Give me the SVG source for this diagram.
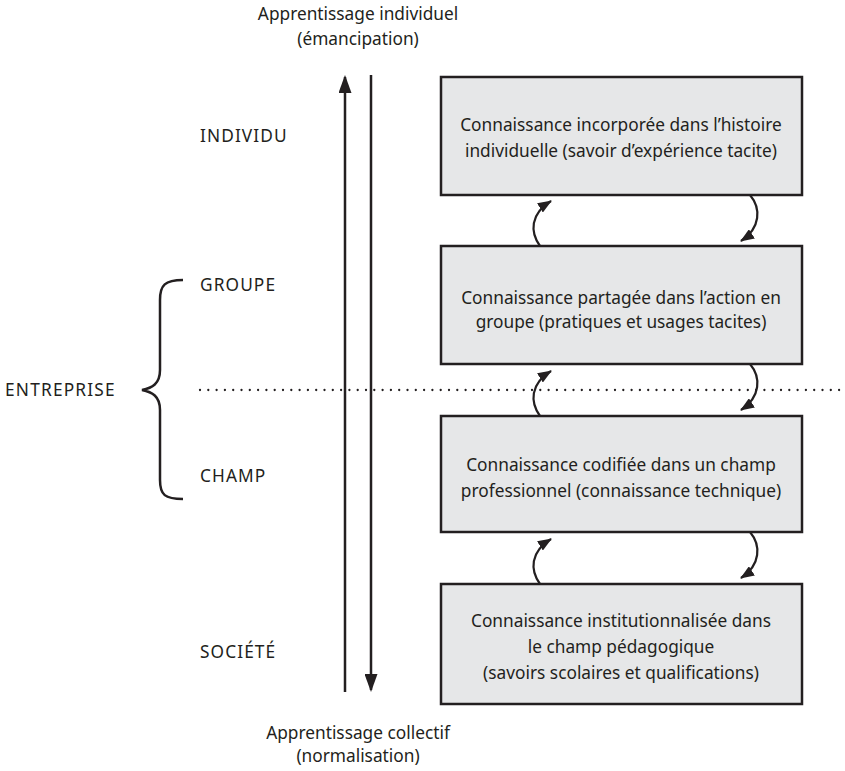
<svg xmlns="http://www.w3.org/2000/svg" width="845" height="771" viewBox="0 0 845 771">
<style>
text{font-family:"Noto Sans","Open Sans","Liberation Sans",sans-serif;font-size:17.3px;fill:#231f20}
.c{text-anchor:middle}
.cap{letter-spacing:1.1px}
.box{fill:#e6e7e8;stroke:#231f20;stroke-width:2.5}
.ln{fill:none;stroke:#231f20;stroke-width:2.5}
.cv{fill:none;stroke:#231f20;stroke-width:2.2}
</style>
<defs>
<marker id="big" markerWidth="18" markerHeight="13" refX="16" refY="6.5" viewBox="0 0 18 13" orient="auto" markerUnits="userSpaceOnUse">
<path d="M0,0 L18,6.5 L0,13 Z" fill="#231f20"/>
</marker>
<marker id="sm" markerWidth="14" markerHeight="11" refX="13" refY="5.5" viewBox="0 0 14 11" orient="auto" markerUnits="userSpaceOnUse">
<path d="M0,0 L14,5.5 L0,11 Z" fill="#231f20"/>
</marker>
</defs>
<g id="top-label"><text class="c" x="358" y="20">Apprentissage individuel</text><text class="c" x="358" y="45">(émancipation)</text></g>
<g id="bottom-label"><text class="c" x="358" y="739">Apprentissage collectif</text><text class="c" x="358" y="762">(normalisation)</text></g>
<g id="levels">
<text class="cap" x="200" y="142">INDIVIDU</text>
<text class="cap" x="200" y="291">GROUPE</text>
<text class="cap" x="200" y="482">CHAMP</text>
<text class="cap" x="200" y="658">SOCIÉTÉ</text>
<text class="cap" x="5" y="396" style="letter-spacing:1.2px">ENTREPRISE</text>
</g>
<g id="brace"><path class="ln" d="M183,280 C165,280 160,285 160,300 L160,370 C160,384 152,388 142,390 C152,392 160,396 160,410 L160,480 C160,495 165,499 183,499" stroke-width="2.2"/></g>
<g id="box1"><rect class="box" x="441" y="77" width="361" height="118"/><text class="c" x="621" y="131">Connaissance incorporée dans l’histoire</text><text class="c" x="621" y="157">individuelle (savoir d’expérience tacite)</text></g>
<g id="box2"><rect class="box" x="441" y="246" width="361" height="118"/><text class="c" x="621" y="304">Connaissance partagée dans l’action en</text><text class="c" x="621" y="328">groupe (pratiques et usages tacites)</text></g>
<g id="box3"><rect class="box" x="441" y="416" width="361" height="116"/><text class="c" x="621" y="471">Connaissance codifiée dans un champ</text><text class="c" x="621" y="497">professionnel (connaissance technique)</text></g>
<g id="box4"><rect class="box" x="441" y="584" width="361" height="120"/><text class="c" x="621" y="627">Connaissance institutionnalisée dans</text><text class="c" x="621" y="653">le champ pédagogique</text><text class="c" x="621" y="679">(savoirs scolaires et qualifications)</text></g>
<g id="connectors">
<line class="ln" x1="345" y1="692" x2="345" y2="77" marker-end="url(#big)"/>
<line class="ln" x1="371" y1="75" x2="371" y2="690" marker-end="url(#big)"/>
<line x1="200" y1="390" x2="845" y2="390" stroke="#231f20" stroke-width="2.3" stroke-dasharray="0 8.3" stroke-linecap="round"/>
<path class="cv" d="M540,246 C530,232 530,214 551,201" marker-end="url(#sm)"/>
<path class="cv" d="M750,195 C761,208 761,228 741,241" marker-end="url(#sm)"/>
<path class="cv" d="M540,416 C530,402 530,384 551,371" marker-end="url(#sm)"/>
<path class="cv" d="M750,364 C761,377 761,397 741,410" marker-end="url(#sm)"/>
<path class="cv" d="M540,584 C530,570 530,552 551,539" marker-end="url(#sm)"/>
<path class="cv" d="M750,532 C761,545 761,565 741,578" marker-end="url(#sm)"/>
</g>
</svg>
